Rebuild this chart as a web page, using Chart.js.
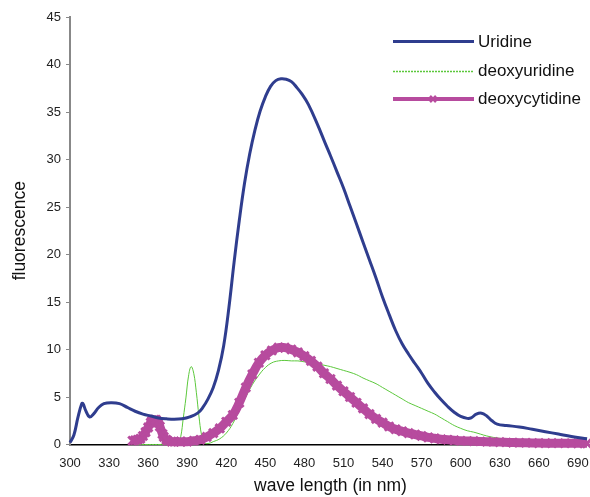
<!DOCTYPE html>
<html>
<head>
<meta charset="utf-8">
<script src="https://cdn.jsdelivr.net/npm/chart.js@4"></script>
<style>
  body { margin: 0; overflow: hidden; background: #fff; }
  canvas { display: block; }
</style>
</head>
<body>
<canvas id="chart" width="600" height="497"></canvas>
<script>
// wavelengths (nm) and fluorescence values
const uridineWl = [300, 303, 306, 309, 310, 312, 315, 318, 322, 326, 332, 338, 344, 350, 356, 362, 368, 374, 380, 386, 392, 398, 402, 406, 410, 414, 418, 422, 426, 430, 434, 438, 442, 446, 450, 454, 458, 462, 466, 470, 474, 478, 483, 490, 496, 500, 505, 510, 515, 520, 525, 530, 535, 540, 545, 550, 555, 560, 565, 570, 575, 580, 585, 590, 595, 600, 605, 608, 612, 616, 620, 624, 628, 635, 645, 655, 665, 675, 685, 697];
const uridine = [0.2, 1.0, 2.8, 4.3, 4.3, 3.6, 2.9, 3.2, 3.9, 4.3, 4.4, 4.3, 3.9, 3.5, 3.2, 3.0, 2.8, 2.7, 2.65, 2.7, 2.9, 3.3, 3.9, 4.8, 6.0, 7.8, 10.4, 14.4, 19.2, 23.6, 27.5, 30.6, 33.1, 35.1, 36.6, 37.7, 38.3, 38.5, 38.45, 38.2, 37.6, 36.9, 35.8, 33.7, 31.7, 30.4, 28.7, 27.0, 25.1, 23.2, 21.3, 19.4, 17.5, 15.5, 13.7, 12.0, 10.6, 9.5, 8.5, 7.5, 6.4, 5.5, 4.7, 4.0, 3.4, 2.95, 2.75, 2.8, 3.2, 3.3, 3.0, 2.5, 2.15, 2.0, 1.85, 1.6, 1.35, 1.1, 0.85, 0.6];

const deoxyuridineWl = [350, 360, 370, 380, 383, 385, 387, 389, 391, 393, 395, 397, 399, 401, 403, 406, 410, 415, 420, 425, 430, 435, 440, 445, 450, 455, 460, 465, 470, 475, 480, 485, 490, 495, 500, 505, 510, 515, 520, 525, 530, 535, 540, 545, 550, 555, 560, 565, 570, 575, 580, 585, 590, 595, 600, 605, 610, 615, 620, 625, 630, 640, 650, 660, 680, 697];
const deoxyuridine = [0, 0, 0, 0, 0.1, 0.8, 2.8, 4.9, 7.2, 8.2, 7.5, 5.5, 3.0, 1.0, 0.2, 0.1, 0.3, 0.6, 1.2, 2.2, 3.6, 5.0, 6.3, 7.3, 8.1, 8.6, 8.8, 8.85, 8.8, 8.8, 8.7, 8.6, 8.5, 8.35, 8.2, 8.0, 7.8, 7.6, 7.35, 7.0, 6.7, 6.4, 6.0, 5.6, 5.2, 4.8, 4.4, 4.1, 3.8, 3.5, 3.2, 2.8, 2.4, 2.0, 1.7, 1.45, 1.3, 1.1, 0.9, 0.75, 0.65, 0.45, 0.3, 0.2, 0.1, 0.05];

const deoxycytidineWl = [348, 350, 352, 354, 356, 358, 360, 362, 363, 365, 366, 368, 369, 371, 372, 374, 375, 378, 380, 385, 390, 395, 400, 405, 410, 415, 420, 425, 430, 435, 440, 445, 450, 455, 460, 465, 470, 475, 480, 485, 490, 495, 500, 505, 510, 515, 520, 525, 530, 535, 540, 545, 550, 555, 560, 565, 570, 575, 580, 585, 590, 595, 600, 610, 620, 630, 640, 650, 660, 670, 680, 690, 697];
const deoxycytidine = [0.4, 0.45, 0.5, 0.6, 0.9, 1.3, 1.8, 2.3, 2.5, 2.6, 2.6, 2.3, 1.9, 1.1, 0.8, 0.5, 0.4, 0.3, 0.3, 0.3, 0.3, 0.4, 0.5, 0.8, 1.2, 1.7, 2.4, 3.1, 4.4, 6.0, 7.4, 8.6, 9.4, 9.9, 10.2, 10.2, 10.0, 9.7, 9.3, 8.8, 8.2, 7.5, 6.9, 6.2, 5.6, 5.0, 4.4, 3.8, 3.2, 2.7, 2.3, 1.9, 1.6, 1.4, 1.2, 1.05, 0.9, 0.75, 0.65, 0.55, 0.5, 0.45, 0.4, 0.35, 0.3, 0.25, 0.2, 0.18, 0.15, 0.14, 0.13, 0.12, 0.12];

const xTicks = [300, 330, 360, 390, 420, 450, 480, 510, 540, 570, 600, 630, 660, 690];
const yTicks = [0, 5, 10, 15, 20, 25, 30, 35, 40, 45];

const BLUE = '#2f3d8e';
const GREEN = '#5cc83c';
const PINK = '#b74b9e';
const FONT = '"Liberation Sans", Arial, sans-serif';

function toPoints(wl, vals) {
    return wl.map((x, i) => ({ x: x, y: vals[i] }));
}

// legend drawn by hand, top right, like the original figure
const legendPlugin = {
    id: 'sideLegend',
    afterDraw(chart) {
        const ctx = chart.ctx;
        const x0 = 393, x1 = 474, tx = 478;
        ctx.save();
        ctx.font = '17px ' + FONT;
        ctx.textBaseline = 'middle';
        ctx.fillStyle = '#111';

        ctx.strokeStyle = BLUE;
        ctx.lineWidth = 3;
        ctx.beginPath(); ctx.moveTo(x0, 41.5); ctx.lineTo(x1, 41.5); ctx.stroke();
        ctx.fillText('Uridine', tx, 42);

        ctx.strokeStyle = GREEN;
        ctx.lineWidth = 1.5;
        ctx.setLineDash([2, 1]);
        ctx.beginPath(); ctx.moveTo(x0, 71.5); ctx.lineTo(x1, 71.5); ctx.stroke();
        ctx.setLineDash([]);
        ctx.fillText('deoxyuridine', tx, 71);

        ctx.strokeStyle = PINK;
        ctx.lineWidth = 4;
        ctx.beginPath(); ctx.moveTo(x0, 99); ctx.lineTo(x1, 99); ctx.stroke();
        ctx.lineWidth = 2.5;
        ctx.beginPath();
        ctx.moveTo(430, 96); ctx.lineTo(436, 102);
        ctx.moveTo(436, 96); ctx.lineTo(430, 102);
        ctx.stroke();
        ctx.fillText('deoxycytidine', tx, 99);
        ctx.restore();
    }
};

new Chart(document.getElementById('chart').getContext('2d'), {
    type: 'line',
    data: {
        datasets: [{
            label: 'Uridine',
            data: toPoints(uridineWl, uridine),
            borderColor: BLUE,
            borderWidth: 3,
            pointRadius: 0,
            tension: 0.4,
            clip: false,
            order: 1
        }, {
            label: 'deoxyuridine',
            data: toPoints(deoxyuridineWl, deoxyuridine),
            borderColor: GREEN,
            borderWidth: 1,
            pointRadius: 0,
            tension: 0.4,
            clip: false,
            order: 3
        }, {
            label: 'deoxycytidine',
            data: toPoints(deoxycytidineWl, deoxycytidine),
            borderColor: PINK,
            borderWidth: 9,
            pointStyle: 'crossRot',
            pointRadius: 6,
            pointBorderWidth: 3,
            pointBorderColor: PINK,
            pointBackgroundColor: PINK,
            tension: 0.4,
            clip: false,
            order: 2
        }]
    },
    options: {
        responsive: false,
        animation: false,
        layout: { padding: { left: 0, top: 17, right: 6, bottom: 0 } },
        plugins: {
            legend: { display: false },
            tooltip: { enabled: false }
        },
        scales: {
            x: {
                type: 'linear',
                min: 300,
                max: 700,
                afterFit: scale => { scale.height = 52.5; },
                afterBuildTicks: scale => { scale.ticks = xTicks.map(v => ({ value: v })); },
                ticks: {
                    color: '#222',
                    padding: 11,
                    maxRotation: 0,
                    font: { family: FONT, size: 13 }
                },
                grid: { drawOnChartArea: false, drawTicks: false },
                border: { color: '#000', width: 1.5 },
                title: {
                    display: true,
                    text: 'wave length (in nm)',
                    color: '#111',
                    padding: { top: 0, bottom: 0 },
                    font: { family: FONT, size: 17.5 }
                }
            },
            y: {
                min: 0,
                max: 45,
                afterFit: scale => { scale.width = 70; },
                afterBuildTicks: scale => { scale.ticks = yTicks.map(v => ({ value: v })); },
                ticks: {
                    color: '#222',
                    padding: 5,
                    font: { family: FONT, size: 13 }
                },
                grid: { drawOnChartArea: false, drawTicks: true, tickLength: 4, tickColor: '#888' },
                border: { color: '#888', width: 2 },
                title: {
                    display: true,
                    text: 'fluorescence',
                    color: '#111',
                    padding: { top: 9.5, bottom: 0 },
                    font: { family: FONT, size: 17.5 }
                }
            }
        }
    },
    plugins: [legendPlugin]
});
</script>
</body>
</html>
